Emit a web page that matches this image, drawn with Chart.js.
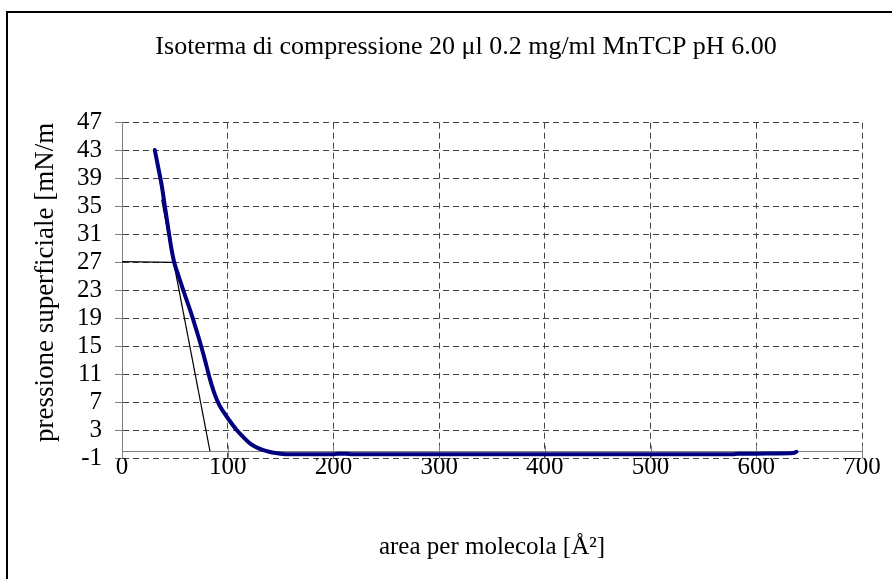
<!DOCTYPE html>
<html><head><meta charset="utf-8">
<script src="https://cdn.jsdelivr.net/npm/chart.js@4.4.1/dist/chart.umd.min.js"></script>
<style>html,body{margin:0;padding:0;background:#fff;}canvas{display:block;}</style>
</head><body>
<canvas id="c" width="892" height="579"></canvas>
<script>
const chartTitle = 'Isoterma di compressione 20 μl 0.2 mg/ml MnTCP pH 6.00';
const xAxisTitle = 'area per molecola [Å²]';
const yAxisTitle = 'pressione superficiale [mN/m';
const xTickValues = [0, 100, 200, 300, 400, 500, 600, 700];
const yTickValues = [-1, 3, 7, 11, 15, 19, 23, 27, 31, 35, 39, 43, 47];

const isothermArea = [31, 34, 37.6, 41, 44.5, 46.5, 48.5, 50.5, 53, 58, 63, 68, 73, 78, 83, 88, 92, 96, 102, 108.5, 115, 121, 127, 133.7, 140, 146, 152, 160, 200, 204, 212, 218, 300, 400, 500, 578, 582, 600, 620, 635, 638];
const isothermPressure = [43.1, 40.8, 38.0, 34.6, 31.1, 29.2, 27.6, 26.4, 25.3, 23.0, 20.8, 18.5, 16.0, 13.3, 10.4, 8.0, 6.6, 5.6, 4.3, 3.0, 1.95, 1.1, 0.55, 0.14, -0.14, -0.3, -0.42, -0.45, -0.45, -0.38, -0.4, -0.47, -0.47, -0.47, -0.47, -0.47, -0.4, -0.38, -0.35, -0.3, -0.1];

const tangentArea = [37.5, 83.2];
const tangentPressure = [36.0, 0];
const plateauArea = [0, 48.6];
const plateauPressure = [27.1, 27.0];

const zip = (xs, ys) => xs.map((v, i) => ({x: v, y: ys[i]}));
const FONT = "'Liberation Serif', 'Times New Roman', serif";

const decorPlugin = {
  id: 'decor',
  afterLayout(chart) {
    const t = chart.titleBlock;
    if (t) { t.left = 466 - 440; t.right = 466 + 440; }
  },
  beforeDatasetsDraw(chart) {
    const {ctx, scales: {x, y}} = chart;
    const y0 = Math.round(y.getPixelForValue(0)) + 0.5;
    ctx.save();
    ctx.strokeStyle = '#808080';
    ctx.lineWidth = 1;
    ctx.setLineDash([]);
    ctx.beginPath();
    ctx.moveTo(x.getPixelForValue(xTickValues[0]), y0);
    ctx.lineTo(x.getPixelForValue(xTickValues[xTickValues.length - 1]), y0);
    xTickValues.forEach(v => {
      const px = Math.round(x.getPixelForValue(v)) + 0.5;
      ctx.moveTo(px, y0 - 6);
      ctx.lineTo(px, y0 + 6);
    });
    ctx.stroke();
    ctx.restore();
  },
  afterDraw(chart) {
    const ctx = chart.ctx;
    ctx.save();
    ctx.strokeStyle = '#000';
    ctx.lineWidth = 2;
    ctx.strokeRect(7, 12, 1000, 1000);
    ctx.restore();
  }
};

new Chart(document.getElementById('c'), {
  type: 'scatter',
  data: {
    datasets: [
      {data: zip(isothermArea, isothermPressure), showLine: true, borderColor: '#000080', backgroundColor: '#000080', borderWidth: 4, pointRadius: 0, cubicInterpolationMode: 'monotone', borderCapStyle: 'round', borderJoinStyle: 'round'},
      {data: zip(tangentArea, tangentPressure), showLine: true, borderColor: '#000', borderWidth: 1.2, pointRadius: 0},
      {data: zip(plateauArea, plateauPressure), showLine: true, borderColor: '#000', borderWidth: 1.2, pointRadius: 0}
    ]
  },
  options: {
    responsive: false,
    animation: false,
    layout: {padding: {left: 0, right: 30, top: 0, bottom: 0}},
    plugins: {
      legend: {display: false},
      tooltip: {enabled: false},
      title: {display: true, text: chartTitle, color: '#000', font: {family: FONT, size: 26, weight: 'normal', lineHeight: 1.2}, padding: {top: 31.4, bottom: 60.1}}
    },
    scales: {
      x: {
        type: 'linear', min: 0, max: 700,
        afterBuildTicks: s => { s.ticks = xTickValues.map(v => ({value: v})); },
        afterFit: s => { s.height = 121; s.paddingLeft = 0; s.paddingRight = 0; },
        grid: {color: '#444', lineWidth: 1, drawTicks: false},
        border: {display: false, dash: [6, 4]},
        ticks: {color: '#000', font: {family: FONT, size: 25}, padding: -6, maxRotation: 0, autoSkip: false},
        title: {display: true, text: xAxisTitle, color: '#000', font: {family: FONT, size: 25}, padding: {top: 0, bottom: 17}}
      },
      y: {
        type: 'linear', min: -1, max: 47,
        afterBuildTicks: s => { s.ticks = yTickValues.map(v => ({value: v})); },
        afterFit: s => { s.width = 122; },
        grid: {color: '#444', lineWidth: 1, drawTicks: true, tickLength: 7, tickColor: '#808080'},
        border: {display: true, color: '#808080', width: 1, dash: [6, 4]},
        ticks: {color: '#000', font: {family: FONT, size: 25}, padding: 13, autoSkip: false},
        title: {display: true, text: yAxisTitle, align: 'end', color: '#000', font: {family: FONT, size: 27}, padding: {top: 30, bottom: 0}}
      }
    }
  },
  plugins: [decorPlugin]
});
</script>
</body></html>
